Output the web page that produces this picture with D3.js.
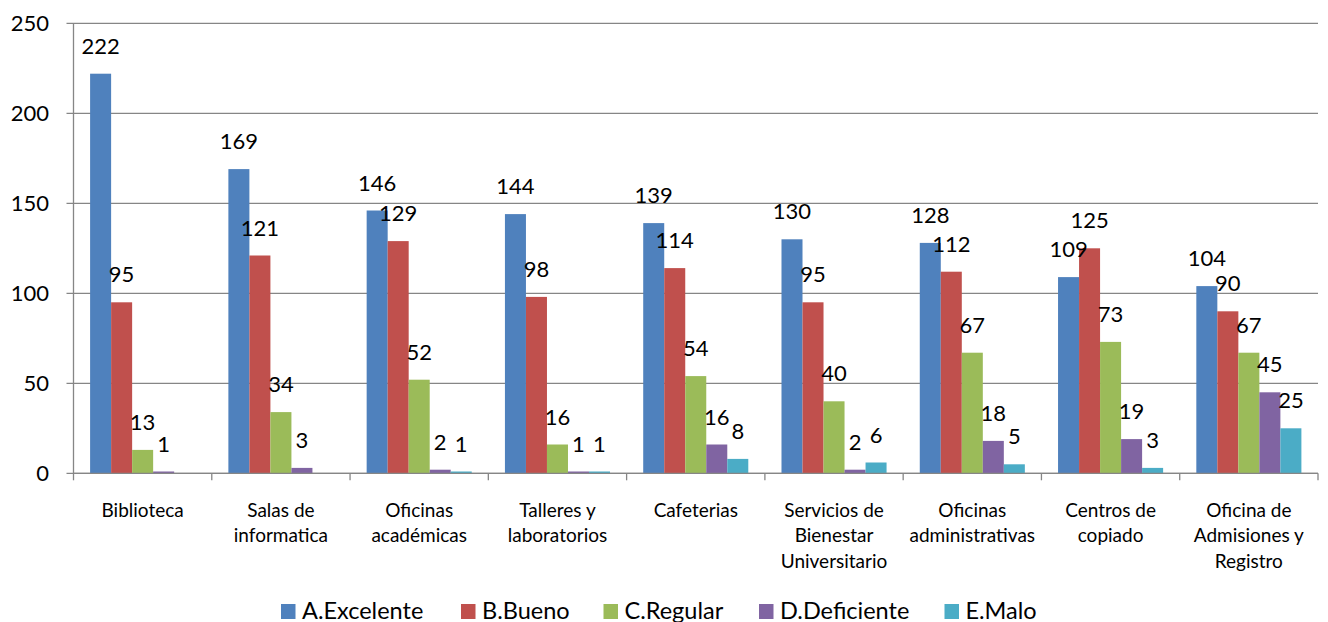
<!DOCTYPE html>
<html>
<head>
<meta charset="utf-8">
<script src="https://cdn.jsdelivr.net/npm/d3@7"></script>
<style>
  html, body { margin: 0; padding: 0; background: #fff; }
  svg { display: block; }
  text { font-family: Lato, "Open Sans", sans-serif; fill: #000; }
</style>
</head>
<body>
<svg id="chart" width="1328" height="622"></svg>
<script>
const categories = [
  ["Biblioteca"],
  ["Salas de", "informatica"],
  ["Oficinas", "académicas"],
  ["Talleres y", "laboratorios"],
  ["Cafeterias"],
  ["Servicios de", "Bienestar", "Universitario"],
  ["Oficinas", "administrativas"],
  ["Centros de", "copiado"],
  ["Oficina de", "Admisiones y", "Registro"]
];
const seriesNames = ["A.Excelente", "B.Bueno", "C.Regular", "D.Deficiente", "E.Malo"];
const seriesColors = ["#4F81BD", "#C0504D", "#9BBB59", "#8064A2", "#4BACC6"];
const excelente = [222, 169, 146, 144, 139, 130, 128, 109, 104];
const bueno     = [95, 121, 129, 98, 114, 95, 112, 125, 90];
const regular   = [13, 34, 52, 16, 54, 40, 67, 73, 67];
const deficiente= [1, 3, 2, 1, 16, 2, 18, 19, 45];
const malo      = [null, null, 1, 1, 8, 6, 5, 3, 25];
const yTicks = [0, 50, 100, 150, 200, 250];

const seriesValues = [excelente, bueno, regular, deficiente, malo];

const svg = d3.select("#chart");
const mLeft = 73.5, mRight = 1318, mTop = 23.3, mBottom = 473.3;

const x0 = d3.scaleBand().domain(d3.range(categories.length)).range([mLeft, mRight]).paddingInner(0).paddingOuter(0);
const x1 = d3.scaleBand().domain(d3.range(seriesNames.length)).range([0, x0.bandwidth()]).paddingInner(0).paddingOuter(0.79);
const y = d3.scaleLinear().domain([0, 250]).range([mBottom, mTop]);

// gridlines
svg.append("g").selectAll("line").data(yTicks).join("line")
  .attr("x1", mLeft - 7).attr("x2", mRight)
  .attr("y1", d => y(d)).attr("y2", d => y(d))
  .attr("stroke", "#868686").attr("stroke-width", 1.3);

// y axis
svg.append("line").attr("x1", mLeft).attr("x2", mLeft).attr("y1", mTop).attr("y2", mBottom)
  .attr("stroke", "#868686").attr("stroke-width", 1.3);
svg.append("g").selectAll("text").data(yTicks).join("text")
  .attr("x", 49).attr("y", d => y(d)).attr("dy", "0.35em")
  .attr("text-anchor", "end").style("font-size", "22px")
  .text(d => d);

// x axis ticks
svg.append("g").selectAll("line").data(d3.range(categories.length + 1)).join("line")
  .attr("x1", i => mLeft + i * x0.bandwidth()).attr("x2", i => mLeft + i * x0.bandwidth())
  .attr("y1", mBottom).attr("y2", mBottom + 7)
  .attr("stroke", "#868686").attr("stroke-width", 1.3);

// bars
const data = [];
categories.forEach((c, i) => {
  seriesValues.forEach((vals, s) => {
    data.push({ i, s, v: vals[i] });
  });
});
const g = svg.append("g");
g.selectAll("rect").data(data.filter(d => d.v != null)).join("rect")
  .attr("x", d => x0(d.i) + x1(d.s))
  .attr("width", x1.bandwidth())
  .attr("y", d => y(d.v))
  .attr("height", d => y(0) - y(d.v))
  .attr("fill", d => seriesColors[d.s]);

// bottom axis line above bars
svg.append("line").attr("x1", mLeft).attr("x2", mRight).attr("y1", mBottom).attr("y2", mBottom)
  .attr("stroke", "#868686").attr("stroke-width", 1.3);

// labels
g.selectAll("text.lbl").data(data.filter(d => d.v != null)).join("text")
  .attr("class", "lbl")
  .attr("x", d => x0(d.i) + x1(d.s) + x1.bandwidth() / 2)
  .attr("y", d => y(d.v) - 20)
  .attr("text-anchor", "middle").style("font-size", "22px")
  .text(d => d.v);

// category labels
const cat = svg.append("g");
categories.forEach((lines, i) => {
  const t = cat.append("text")
    .attr("x", x0(i) + x0.bandwidth() / 2)
    .attr("y", 516.5)
    .attr("text-anchor", "middle").style("font-size", "19px");
  lines.forEach((ln, k) => {
    t.append("tspan").attr("x", x0(i) + x0.bandwidth() / 2).attr("y", 516.5 + k * 25.6).text(ln);
  });
});

// legend
const legendX = [281, 461, 603.5, 759, 944.5];
const leg = svg.append("g");
seriesNames.forEach((n, s) => {
  leg.append("rect").attr("x", legendX[s]).attr("y", 604).attr("width", 14.5).attr("height", 15)
    .attr("fill", seriesColors[s]);
  leg.append("text").attr("x", legendX[s] + 21).attr("y", 618.5)
    .style("font-size", "23.5px").text(n);
});
</script>
</body>
</html>
